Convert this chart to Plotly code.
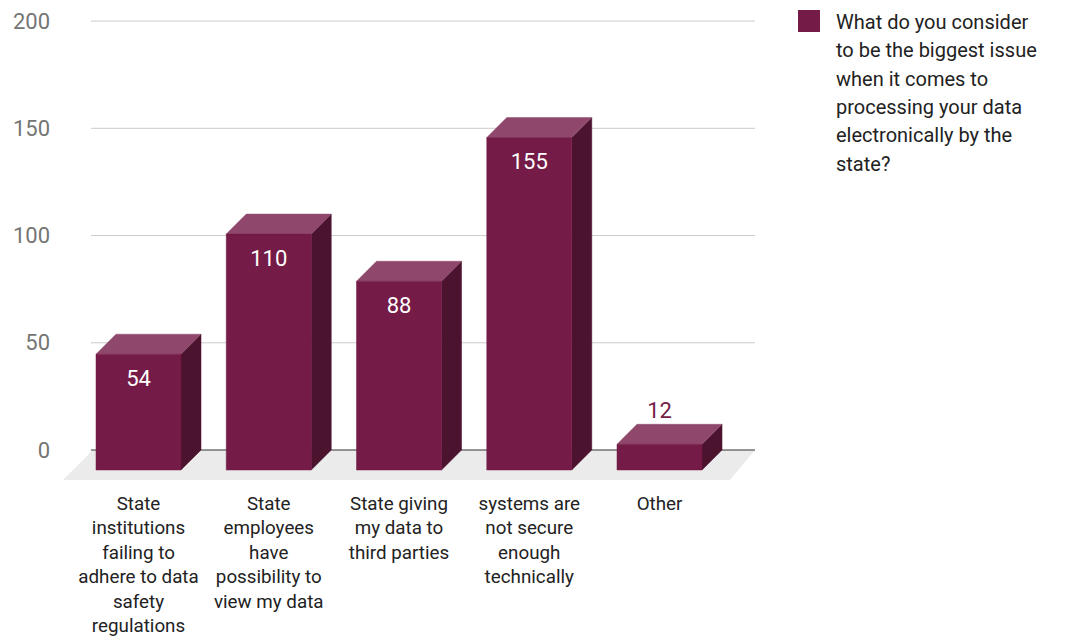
import plotly.graph_objects as go

# Survey answers
categories = [
    "State<br>institutions<br>failing to<br>adhere to data<br>safety<br>regulations",
    "State<br>employees<br>have<br>possibility to<br>view my data",
    "State giving<br>my data to<br>third parties",
    "systems are<br>not secure<br>enough<br>technically",
    "Other",
]
counts = [54, 110, 88, 155, 12]
y_ticks = [0, 50, 100, 150, 200]
series_name = [
    "What do you consider",
    "to be the biggest issue",
    "when it comes to",
    "processing your data",
    "electronically by the",
    "state?",
]

# Colours
FRONT = "#741b47"
TOP = "#8f486b"
SIDE = "#4b132e"
FLOOR = "#ebebeb"

# Pseudo-3D geometry (category units / value units)
BAR_W = 0.6526
DX = 0.1536
DY = 9.33

# Canvas geometry
W, H = 1074, 637
ML, MR, MT, MB = 58, 294, 10, 147
PW, PH = W - ML - MR, H - MT - MB
X_RANGE = [-0.618, 4.925]
Y_RANGE = [-18.65, 205.17]


def px_x(p):
    return (p - ML) / PW


def px_y(q):
    return (H - MB - q) / PH


n = len(counts)
fig = go.Figure()

# floor
fig.add_trace(go.Scatter(
    x=[-0.349, n - 1 + 0.733, n - 1 + 0.54, -0.58, -0.349],
    y=[0, 0, -14, -14, 0],
    fill="toself", fillcolor=FLOOR, mode="lines", line=dict(width=0),
    hoverinfo="skip", showlegend=False,
))

# gridlines on the back wall
for t in y_ticks:
    fig.add_trace(go.Scatter(
        x=[-0.365, n - 1 + 0.733], y=[t, t], mode="lines",
        line=dict(color="#333333" if t == 0 else "#cccccc", width=1),
        hoverinfo="skip", showlegend=False,
    ))

# bar faces
fx, fy, tx, ty, sx, sy = [], [], [], [], [], []
for i, v in enumerate(counts):
    l, r = i - BAR_W / 2, i + BAR_W / 2
    fx += [l, r, r, l, l, None]
    fy += [-DY, -DY, v - DY, v - DY, -DY, None]
    tx += [l, r, r + DX, l + DX, l, None]
    ty += [v - DY, v - DY, v, v, v - DY, None]
    sx += [r, r + DX, r + DX, r, r, None]
    sy += [-DY, 0, v, v - DY, -DY, None]

for xs, ys, c in [(sx, sy, SIDE), (tx, ty, TOP), (fx, fy, FRONT)]:
    fig.add_trace(go.Scatter(
        x=xs, y=ys, fill="toself", fillcolor=c, mode="lines",
        line=dict(color=c, width=0.5), hoverinfo="skip", showlegend=False,
    ))

# value labels: inside the bar when it is tall enough, above otherwise
in_x, in_y, in_t, out_x, out_y, out_t = [], [], [], [], [], []
for i, v in enumerate(counts):
    if v > 30:
        in_x.append(i); in_y.append(v - DY - 12.2); in_t.append(str(v))
    else:
        out_x.append(i); out_y.append(v + 5.4); out_t.append(str(v))

fig.add_trace(go.Scatter(
    x=in_x, y=in_y, text=in_t, mode="text",
    textfont=dict(family="Roboto", size=22, color="#ffffff"),
    cliponaxis=False, hoverinfo="skip", showlegend=False,
))
fig.add_trace(go.Scatter(
    x=out_x, y=out_y, text=out_t, mode="text",
    textfont=dict(family="Roboto", size=22, color=FRONT),
    cliponaxis=False, hoverinfo="skip", showlegend=False,
))

# legend
fig.add_shape(
    type="rect", xref="paper", yref="paper",
    x0=px_x(798), x1=px_x(820), y0=px_y(32), y1=px_y(10),
    fillcolor=FRONT, line=dict(width=0),
)
for k, line in enumerate(series_name):
    fig.add_annotation(
        x=px_x(834), y=px_y(22 + k * 28.3), xref="paper", yref="paper",
        text=line, showarrow=False, xanchor="left", yanchor="middle",
        font=dict(family="Roboto", size=20, color="#222222"),
    )

fig.update_layout(
    width=W, height=H,
    margin=dict(l=ML, r=MR, t=MT, b=MB, autoexpand=False),
    paper_bgcolor="white", plot_bgcolor="white",
    showlegend=False,
    xaxis=dict(
        range=X_RANGE, tickvals=list(range(n)), ticktext=categories,
        showgrid=False, zeroline=False, showline=False, ticks="",
        tickfont=dict(family="Roboto", size=18.8, color="#222222"),
        automargin=False, fixedrange=True,
    ),
    yaxis=dict(
        range=Y_RANGE, tickvals=y_ticks, ticktext=[str(t) for t in y_ticks],
        showgrid=False, zeroline=False, showline=False, ticks="",
        ticklabelstandoff=7,
        tickfont=dict(family="Roboto", size=22, color="#757575"),
        automargin=False, fixedrange=True,
    ),
)

fig.write_html("out.html")
